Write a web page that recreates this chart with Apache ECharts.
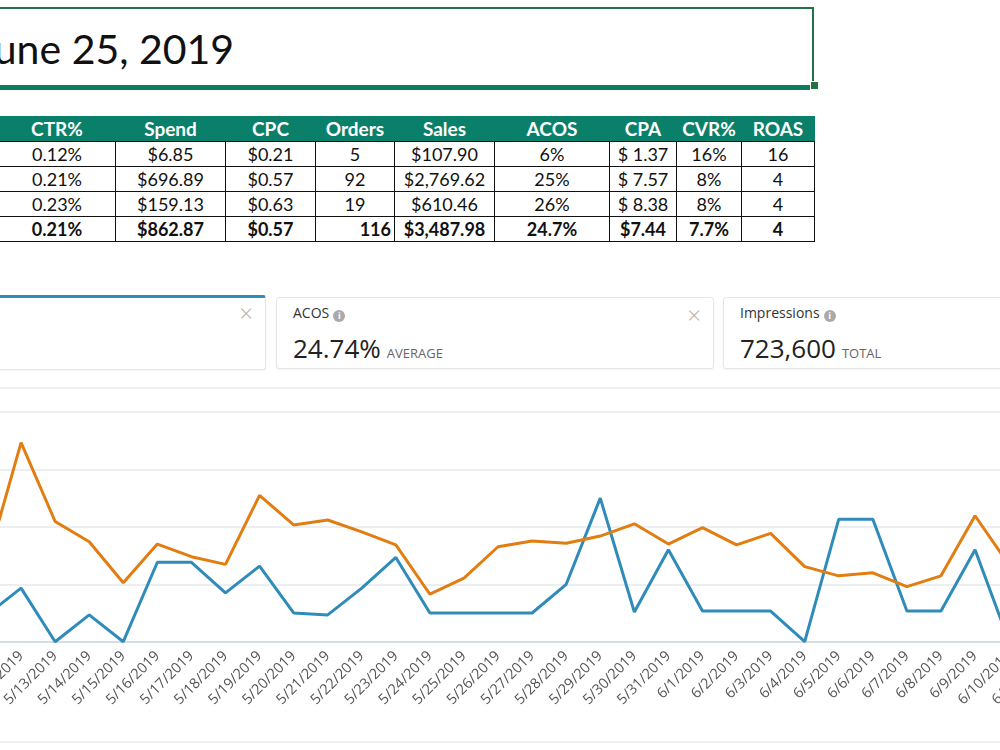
<!DOCTYPE html>
<html>
<head>
<meta charset="utf-8">
<script src="https://cdn.jsdelivr.net/npm/echarts@6/dist/echarts.min.js"></script>
<style>
  body { margin: 0; width: 1000px; height: 750px; overflow: hidden; position: relative; background: #fff; }
  #title { position: absolute; left: -10px; top: 7px; width: 822px; height: 76px;
    border-top: 2px solid #217346; border-right: 2px solid #217346; border-bottom: 5px solid #0d7b5f; }
  #title span { position: absolute; left: -13px; top: 15px; font-family: Lato, sans-serif; font-size: 41px; color: #111; }
  #handle { position: absolute; left: 810px; top: 81px; width: 7px; height: 7px; background: #217346; border: 1px solid #fff; }
  #tbl { position: absolute; left: -2px; top: 116px; border-collapse: collapse; font-family: Lato, sans-serif; font-size: 18px; color: #111; table-layout: fixed; }
  #tbl th { background: #0a806a; color: #fff; font-weight: bold; font-size: 19px; height: 25px; padding: 0; text-align: center; white-space: nowrap; }
  #tbl td { border: 1px solid #111; height: 24px; padding: 0 3px; text-align: center; white-space: nowrap; line-height: 22px; }
  #tbl tr.total td { font-weight: bold; }
  #tbl tr.total td.r { text-align: right; }
  .card { position: absolute; top: 297px; height: 70px; border: 1px solid #e4e6e8; border-radius: 3px; background: #fff;
    font-family: "Open Sans", sans-serif; box-shadow: 0 1px 2px rgba(0,0,0,0.05); }
  .card .lbl { position: absolute; left: 16px; top: 5px; font-size: 14px; color: #333; }
  .card .info { display: inline-block; width: 12px; height: 12px; border-radius: 50%; background: #aaa; color: #fff;
    font-size: 9px; line-height: 12px; text-align: center; font-weight: bold; margin-left: 4px; vertical-align: -1px; }
  .card .val { position: absolute; left: 16px; top: 32px; font-size: 26px; color: #222; }
  .card .unit { font-size: 13px; color: #666; margin-left: 6px; }
  .card .x { position: absolute; right: 12px; top: 0px; font-size: 24px; font-weight: 300; color: #b5b5b5; }
  #sep1 { position: absolute; left: 0; top: 387px; width: 1000px; height: 2px; background: #eef0f2; }
  #sep2 { position: absolute; left: 0; top: 741px; width: 1000px; height: 2px; background: #eef0f2; }
  #chart { position: absolute; left: -100px; top: 380px; width: 1200px; height: 370px; }
</style>
</head>
<body>
<div id="title"><span>June 25, 2019</span></div>
<div id="handle"></div>
<table id="tbl"></table>

<div class="card" style="left:-20px;width:284px;top:295px;height:71px;border-top:3px solid #2f8bba;">
  <span class="x" style="top:-2px">&#215;</span>
</div>
<div class="card" style="left:276px;width:436px;">
  <div class="lbl">ACOS<span class="info">i</span></div>
  <div class="val">24.74%<span class="unit">AVERAGE</span></div>
  <span class="x">&#215;</span>
</div>
<div class="card" style="left:723px;width:300px;">
  <div class="lbl">Impressions<span class="info">i</span></div>
  <div class="val">723,600<span class="unit">TOTAL</span></div>
</div>

<div id="sep1"></div>
<div id="sep2"></div>
<div id="chart"></div>

<script>
// table data
var tableHeader = ['CTR%', 'Spend', 'CPC', 'Orders', 'Sales', 'ACOS', 'CPA', 'CVR%', 'ROAS'];
var colWidths = [117, 110, 90, 79, 100, 115, 67, 65, 73];
var tableRows = [
  ['0.12%', '$6.85', '$0.21', '5', '$107.90', '6%', '$ 1.37', '16%', '16'],
  ['0.21%', '$696.89', '$0.57', '92', '$2,769.62', '25%', '$ 7.57', '8%', '4'],
  ['0.23%', '$159.13', '$0.63', '19', '$610.46', '26%', '$ 8.38', '8%', '4']
];
var totalRow = ['0.21%', '$862.87', '$0.57', '116', '$3,487.98', '24.7%', '$7.44', '7.7%', '4'];

// chart data
var dates = ['5/11/2019', '5/12/2019', '5/13/2019', '5/14/2019', '5/15/2019', '5/16/2019', '5/17/2019',
  '5/18/2019', '5/19/2019', '5/20/2019', '5/21/2019', '5/22/2019', '5/23/2019', '5/24/2019', '5/25/2019',
  '5/26/2019', '5/27/2019', '5/28/2019', '5/29/2019', '5/30/2019', '5/31/2019', '6/1/2019', '6/2/2019',
  '6/3/2019', '6/4/2019', '6/5/2019', '6/6/2019', '6/7/2019', '6/8/2019', '6/9/2019', '6/10/2019', '6/11/2019'];
var sales = [28, 56, 0, 28, 0, 83, 83, 51, 79, 30, 28, 56, 88, 30, 30, 30,
  30, 60, 150, 31, 96, 32, 32, 32, 0, 128, 128, 32, 32, 96, 0, 32];
var acos = [20.6, 52.0, 31.4, 26.1, 15.4, 25.5, 22.2, 20.2, 38.2, 30.5, 31.8, 28.7, 25.3, 12.4, 16.6, 24.8,
  26.3, 25.7, 27.6, 30.8, 25.5, 29.8, 25.3, 28.3, 19.6, 17.2, 18.0, 14.4, 17.2, 32.9, 20.0, 24.0];

// build table
var tbl = document.getElementById('tbl');
var html = '<colgroup>';
colWidths.forEach(function(w) { html += '<col style="width:' + w + 'px">'; });
html += '</colgroup><tr>';
tableHeader.forEach(function(h) { html += '<th>' + h + '</th>'; });
html += '</tr>';
tableRows.forEach(function(r) {
  html += '<tr>';
  r.forEach(function(c) { html += '<td>' + c + '</td>'; });
  html += '</tr>';
});
html += '<tr class="total">';
totalRow.forEach(function(c, i) { html += '<td' + (i === 3 ? ' class="r"' : '') + '>' + c + '</td>'; });
html += '</tr>';
tbl.innerHTML = html;

// line chart
var chart = echarts.init(document.getElementById('chart'));
chart.setOption({
  animation: false,
  grid: { left: 87, right: 56.8, top: 32, bottom: 108.3 },
  xAxis: {
    type: 'category',
    data: dates,
    boundaryGap: false,
    axisLine: { lineStyle: { color: '#d6dde4', width: 2 } },
    axisTick: { show: false },
    axisLabel: { interval: 0, rotate: 45, color: '#555', fontSize: 14.5, fontFamily: 'Open Sans', margin: 12 }
  },
  yAxis: [
    {
      type: 'value', min: 0, max: 240, interval: 60,
      axisLabel: { show: false }, axisLine: { show: false }, axisTick: { show: false },
      splitLine: { lineStyle: { color: '#eceff1', width: 2 } }
    },
    {
      type: 'value', min: 0, max: 60, interval: 15,
      axisLabel: { show: false }, axisLine: { show: false }, axisTick: { show: false },
      splitLine: { show: false }
    }
  ],
  series: [
    {
      name: 'Sales', type: 'line', yAxisIndex: 0, data: sales,
      showSymbol: false, lineStyle: { color: '#2f8bba', width: 3 }, itemStyle: { color: '#2f8bba' }
    },
    {
      name: 'ACOS', type: 'line', yAxisIndex: 1, data: acos,
      showSymbol: false, lineStyle: { color: '#e27d12', width: 3 }, itemStyle: { color: '#e27d12' }
    }
  ]
});
</script>
</body>
</html>
